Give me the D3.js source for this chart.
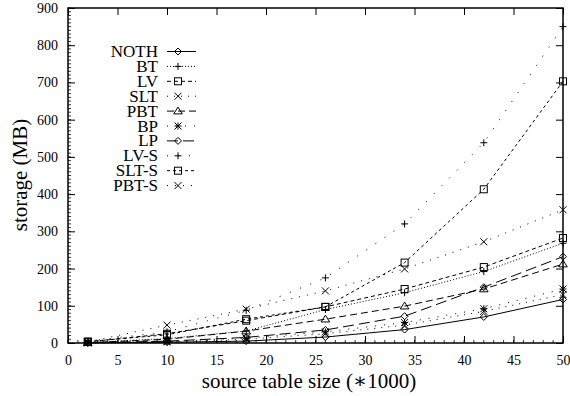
<!DOCTYPE html>
<html>
<head>
<meta charset="utf-8">
<script src="https://cdn.jsdelivr.net/npm/d3@7"></script>
<style>
  body { margin: 0; background: #fff; }
  svg { font-family: "Liberation Serif", "DejaVu Serif", serif; }
</style>
</head>
<body>
<svg id="chart" width="570" height="396"></svg>
<script>
// x positions (thousands of rows)
const sizes = [2, 10, 18, 26, 34, 42, 50];

// storage values (MB)
const noth  = [0.5, 2, 5, 16, 36, 70, 117];
const bt    = [1, 12, 32, 90, 135, 192, 268];
const lv    = [3, 25, 60, 97, 145, 204, 282];
const slt   = [0.5, 3, 10, 25, 48, 85, 130];
const pbt   = [1, 10, 32, 64, 99, 145, 212];
const bp    = [0.5, 4, 13, 30, 55, 92, 145];
const lp    = [0.5, 5, 15, 35, 72, 150, 232];
const lvS   = [5, 30, 88, 175, 320, 538, 850];
const sltS  = [4, 22, 64, 97, 216, 413, 703];
const pbtS  = [3, 48, 91, 140, 199, 272, 358];

const seriesNames = ['NOTH', 'BT', 'LV', 'SLT', 'PBT', 'BP', 'LP', 'LV-S', 'SLT-S', 'PBT-S'];
const seriesValues = [noth, bt, lv, slt, pbt, bp, lp, lvS, sltS, pbtS];
const dashes  = ['none', '1,2', '4,3', '1,6', '7,4', '1,8', '11,5', '1,10', '3,3', '1,7'];
const symbols = ['diamond', 'plus', 'square', 'cross', 'triangle', 'star', 'diamond', 'plus', 'square', 'cross'];

const xTicks = [0, 5, 10, 15, 20, 25, 30, 35, 40, 45, 50];
const yTicks = [0, 100, 200, 300, 400, 500, 600, 700, 800, 900];

const svg = d3.select('#chart');
const plotLeft = 68, plotRight = 563, plotTop = 8, plotBottom = 343;

const x = d3.scaleLinear().domain([0, 50]).range([plotLeft, plotRight]);
const y = d3.scaleLinear().domain([0, 900]).range([plotBottom, plotTop]);

// minor ticks
const minorX = d3.range(0, 51, 1);
const minorY = d3.range(0, 901, 10);
svg.append('g').selectAll('line').data(minorX).enter().append('line')
    .attr('x1', d => x(d)).attr('x2', d => x(d))
    .attr('y1', plotBottom).attr('y2', plotBottom - 3)
    .attr('stroke', '#000').attr('stroke-width', 0.8);
svg.append('g').selectAll('line').data(minorY).enter().append('line')
    .attr('x1', plotLeft).attr('x2', plotLeft + 3)
    .attr('y1', d => y(d)).attr('y2', d => y(d))
    .attr('stroke', '#000').attr('stroke-width', 0.8);

// axes with inward ticks
const xAxis = svg.append('g').attr('transform', `translate(0,${plotBottom})`)
    .call(d3.axisBottom(x).tickValues(xTicks).tickSizeInner(-7).tickSizeOuter(0).tickPadding(12));
const xAxisTop = svg.append('g').attr('transform', `translate(0,${plotTop})`)
    .call(d3.axisTop(x).tickValues(xTicks).tickSizeInner(-7).tickSizeOuter(0).tickFormat(''));
const yAxis = svg.append('g').attr('transform', `translate(${plotLeft},0)`)
    .call(d3.axisLeft(y).tickValues(yTicks).tickSizeInner(-7).tickSizeOuter(0).tickPadding(10));
const yAxisRight = svg.append('g').attr('transform', `translate(${plotRight},0)`)
    .call(d3.axisRight(y).tickValues(yTicks).tickSizeInner(-7).tickSizeOuter(0).tickFormat(''));

[xAxis, xAxisTop, yAxis, yAxisRight].forEach(a => {
    a.select('.domain').remove();
    a.selectAll('line').attr('stroke', '#000').attr('stroke-width', 1);
    a.selectAll('text').attr('font-family', '"Liberation Serif", serif').attr('font-size', 14).attr('fill', '#000');
});

// frame
svg.append('rect')
    .attr('x', plotLeft).attr('y', plotTop)
    .attr('width', plotRight - plotLeft).attr('height', plotBottom - plotTop)
    .attr('fill', 'none').attr('stroke', '#000').attr('stroke-width', 1.5);

// marker drawing
function drawSymbol(g, type, cx, cy) {
    const s = 3.5;
    if (type === 'diamond') {
        g.append('path').attr('d', `M${cx},${cy - s}L${cx + s},${cy}L${cx},${cy + s}L${cx - s},${cy}Z`)
            .attr('fill', 'none').attr('stroke', '#000');
    } else if (type === 'plus') {
        g.append('path').attr('d', `M${cx - s},${cy}H${cx + s}M${cx},${cy - s}V${cy + s}`)
            .attr('stroke', '#000');
    } else if (type === 'square') {
        g.append('rect').attr('x', cx - s).attr('y', cy - s).attr('width', 2 * s).attr('height', 2 * s)
            .attr('fill', 'none').attr('stroke', '#000');
    } else if (type === 'cross') {
        g.append('path').attr('d', `M${cx - s},${cy - s}L${cx + s},${cy + s}M${cx - s},${cy + s}L${cx + s},${cy - s}`)
            .attr('stroke', '#000');
    } else if (type === 'triangle') {
        g.append('path').attr('d', `M${cx},${cy - s - 0.5}L${cx + s + 0.8},${cy + s * 0.8}L${cx - s - 0.8},${cy + s * 0.8}Z`)
            .attr('fill', 'none').attr('stroke', '#000');
    } else if (type === 'star') {
        g.append('path').attr('d', `M${cx - s},${cy}H${cx + s}M${cx},${cy - s}V${cy + s}M${cx - s},${cy - s}L${cx + s},${cy + s}M${cx - s},${cy + s}L${cx + s},${cy - s}`)
            .attr('stroke', '#000');
    }
}

const line = d3.line().x(d => x(d[0])).y(d => y(d[1]));

seriesValues.forEach((vals, i) => {
    const pts = sizes.map((s, j) => [s, vals[j]]);
    svg.append('path')
        .attr('d', line(pts))
        .attr('fill', 'none')
        .attr('stroke', '#000')
        .attr('stroke-width', 1)
        .attr('stroke-dasharray', dashes[i]);
    const g = svg.append('g');
    pts.forEach(p => drawSymbol(g, symbols[i], x(p[0]), y(p[1])));
});

// legend
const legend = svg.append('g');
seriesNames.forEach((name, i) => {
    const ly = 51.5 + i * 14.9;
    legend.append('text')
        .attr('x', 158).attr('y', ly + 5.5)
        .attr('text-anchor', 'end')
        .attr('font-size', 17)
        .text(name);
    legend.append('line')
        .attr('x1', 167).attr('x2', 196)
        .attr('y1', ly).attr('y2', ly)
        .attr('stroke', '#000')
        .attr('stroke-dasharray', dashes[i]);
    drawSymbol(legend, symbols[i], 178, ly);
});

// axis titles
svg.append('text')
    .attr('x', 309).attr('y', 388)
    .attr('text-anchor', 'middle')
    .attr('font-size', 21)
    .text('source table size (∗1000)');
svg.append('text')
    .attr('transform', 'translate(27,175) rotate(-90)')
    .attr('text-anchor', 'middle')
    .attr('font-size', 21)
    .text('storage (MB)');
</script>
</body>
</html>
